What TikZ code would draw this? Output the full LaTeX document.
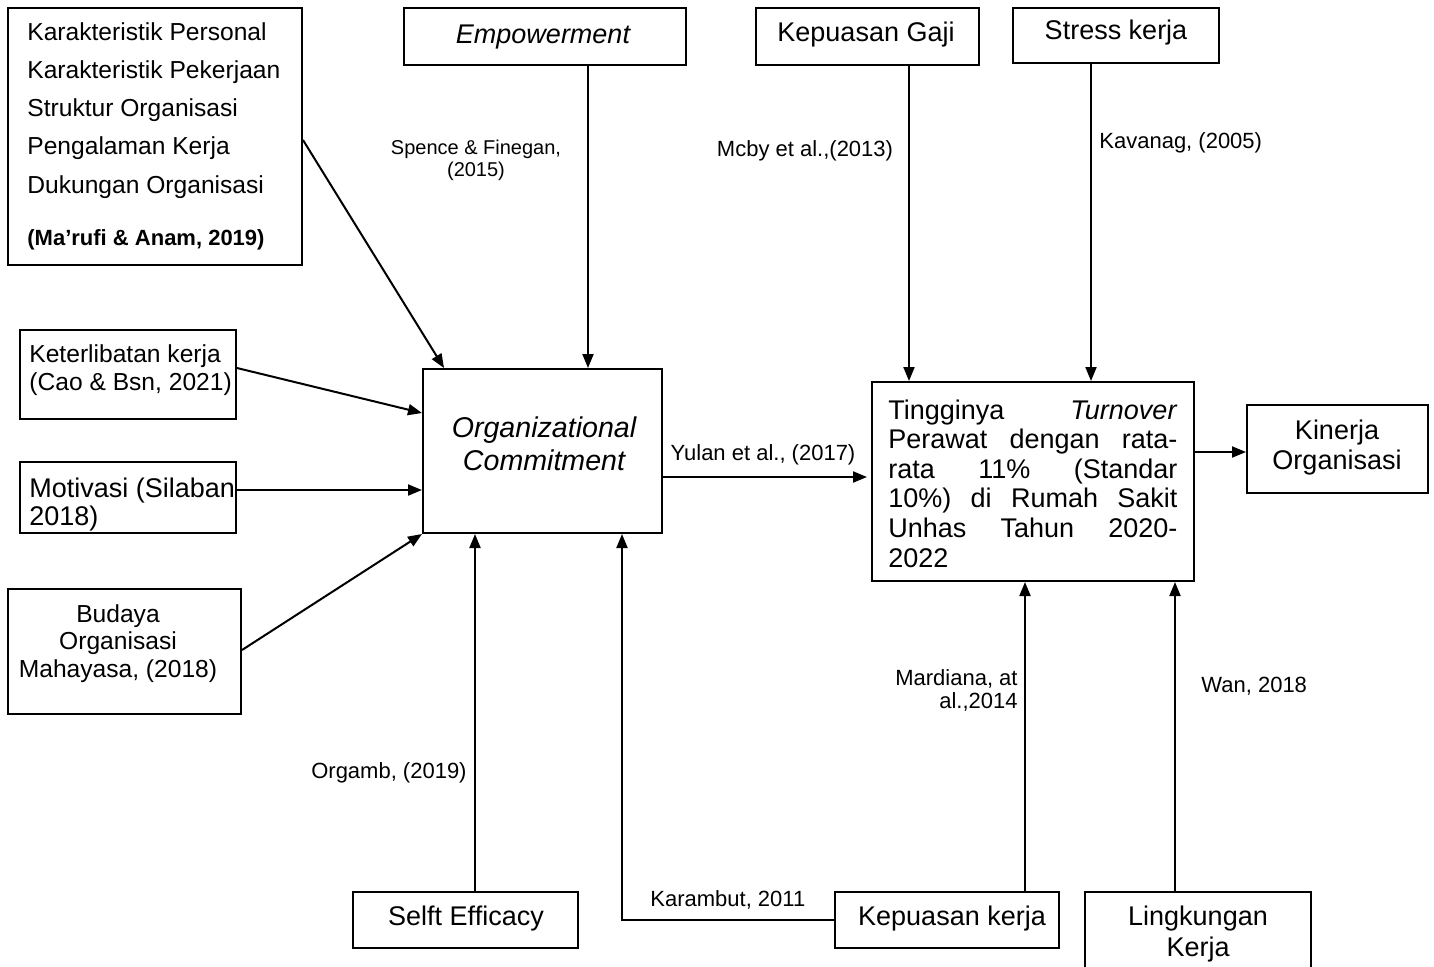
\documentclass[tikz,border=0pt]{standalone}
\usepackage{fontspec}
\setmainfont{Liberation Sans}
\usetikzlibrary{arrows.meta,calc}
\newcommand{\jl}[1]{\hbox to 144.5pt{#1}}
\begin{document}
\begin{tikzpicture}[x=0.5pt,y=-0.5pt,
  box/.style={draw,line width=1pt,inner sep=0pt},
  txt/.style={inner sep=0pt,font=\fontsize{13.5}{14}\selectfont},
  smalltxt/.style={inner sep=0pt,font=\fontsize{11}{11.5}\selectfont},
  arr/.style={line width=1pt,-{Triangle[length=7pt,width=5.5pt]}},
  conn/.style={line width=1pt}]
\useasboundingbox[fill=white] (0,0) rectangle (1434,966);
% boxes
\node[box,minimum width=147pt,minimum height=128.5pt] (A) at (155,136.5) {};
\node[box,minimum width=141pt,minimum height=28.5pt] (Emp) at (545,36.5) {};
\node[box,minimum width=111.5pt,minimum height=28.5pt] (Gaji) at (867.5,36.5) {};
\node[box,minimum width=103pt,minimum height=27.5pt] (Stress) at (1116,35.5) {};
\node[box,minimum width=108pt,minimum height=44.5pt] (Ket) at (128,374.5) {};
\node[box,minimum width=108pt,minimum height=35.5pt] (Mot) at (128,497.5) {};
\node[box,minimum width=116.5pt,minimum height=62.5pt] (Bud) at (124.5,651.5) {};
\node[box,minimum width=119.5pt,minimum height=82pt] (OC) at (542.5,451) {};
\node[box,minimum width=161pt,minimum height=99.5pt] (TO) at (1033,481.5) {};
\node[box,minimum width=90.5pt,minimum height=44pt] (Kin) at (1337.5,449) {};
\node[box,minimum width=112.5pt,minimum height=28pt] (SE) at (465.5,920) {};
\node[box,minimum width=112pt,minimum height=28pt] (KK) at (947,920) {};
\node[box,minimum width=113pt,minimum height=45pt] (LK) at (1198,937) {};
% box texts (multi-line nodes: base = last line's baseline)
\node[txt,anchor=base west,align=left,font=\fontsize{12.3}{19.1}\selectfont] (At) at (27,193)
  {Karakteristik Personal\\Karakteristik Pekerjaan\\Struktur Organisasi\\Pengalaman Kerja\\Dukungan Organisasi};
\node[txt,anchor=base west,font=\fontsize{11}{12}\selectfont\bfseries] (Ab) at (27,245) {(Ma’rufi \& Anam, 2019)};
\node[txt,anchor=base] (Empt) at (543,43) {\itshape Empowerment};
\node[txt,anchor=base] (Gajit) at (866,41) {Kepuasan Gaji};
\node[txt,anchor=base] (Stresst) at (1116,39) {Stress kerja};
\node[txt,anchor=base west,align=left,font=\fontsize{12.3}{14}\selectfont] (Kett) at (29,390) {Keterlibatan kerja\\(Cao \& Bsn, 2021)};
\node[txt,anchor=base west,align=left] (Mott) at (29,525) {Motivasi (Silaban\\2018)};
\node[txt,anchor=base,align=center,font=\fontsize{12.3}{13.75}\selectfont] (Budt) at (118,677) {Budaya\\Organisasi\\Mahayasa, (2018)};
\node[txt,anchor=base,align=center,font=\fontsize{14.3}{16.5}\selectfont\itshape] (OCt) at (544,470) {Organizational\\Commitment};
\node[txt,anchor=base west,align=left,font=\fontsize{13.5}{14.8}\selectfont] (TOt) at (888,567)
  {\jl{Tingginya\hfill\textit{Turnover}}\\\jl{Perawat\hfill dengan\hfill rata-}\\\jl{rata\hfill 11\%\hfill (Standar}\\\jl{10\%)\hfill di\hfill Rumah\hfill Sakit}\\\jl{Unhas\hfill Tahun\hfill 2020-}\\2022};
\node[txt,anchor=base,align=center,font=\fontsize{13.5}{15}\selectfont] (Kint) at (1337,469) {Kinerja\\Organisasi};
\node[txt,anchor=base] (SEt) at (466,925) {Selft Efficacy};
\node[txt,anchor=base] (KKt) at (952,925) {Kepuasan kerja};
\node[txt,anchor=base,align=center,font=\fontsize{13.5}{15.5}\selectfont] (LKt) at (1198,956) {Lingkungan\\Kerja};
% labels
\node[smalltxt,anchor=base,align=center,font=\fontsize{10}{11}\selectfont] (l1) at (476,176) {Spence \& Finegan,\\(2015)};
\node[smalltxt,anchor=base] (l2) at (805,156) {Mcby et al.,(2013)};
\node[smalltxt,anchor=base west] (l3) at (1099,148) {Kavanag, (2005)};
\node[smalltxt,anchor=base] (l4) at (763,460) {Yulan et al., (2017)};
\node[smalltxt,anchor=base east,align=right] (l5) at (1018,708) {Mardiana, at\\al.,2014};
\node[smalltxt,anchor=base west] (l6) at (1201,692) {Wan, 2018};
\node[smalltxt,anchor=base east] (l7) at (467,778) {Orgamb, (2019)};
\node[smalltxt,anchor=base west] (l8) at (650,906) {Karambut, 2011};
% connectors
\draw[arr] ([yshift=-1.75pt]A.east) -- ([xshift=11pt]OC.north west);
\draw[arr] ([yshift=3.25pt]Ket.east) -- ([yshift=19pt]OC.west);
\draw[arr] ([yshift=3.75pt]Mot.east) -- ([yshift=3.75pt]Mot.east -| OC.west);
\draw[arr] ([yshift=0.75pt]Bud.east) -- (OC.south west);
\draw[arr] ([xshift=21.5pt]Emp.south) -- ([xshift=21.5pt]Emp.south |- OC.north);
\draw[arr] ([xshift=20.75pt]Gaji.south) -- ([xshift=20.75pt]Gaji.south |- TO.north);
\draw[arr] ([xshift=-12.5pt]Stress.south) -- ([xshift=-12.5pt]Stress.south |- TO.north);
\draw[arr] ([yshift=-13pt]OC.east) -- ([yshift=-13pt,xshift=-2pt]OC.east -| TO.west);
\draw[arr] ([yshift=14.75pt]TO.east) -- ([yshift=14.75pt]TO.east -| Kin.west);
\draw[arr] ([xshift=4.75pt]SE.north) -- ([xshift=4.75pt]SE.north |- OC.south);
\draw[arr] ([xshift=39pt]KK.north) -- ([xshift=39pt]KK.north |- TO.south);
\draw[arr] (KK.west) -| ([xshift=39.75pt]OC.south);
\draw[arr] ([xshift=-11.5pt]LK.north) -- ([xshift=-11.5pt]LK.north |- TO.south);
\end{tikzpicture}
\end{document}
